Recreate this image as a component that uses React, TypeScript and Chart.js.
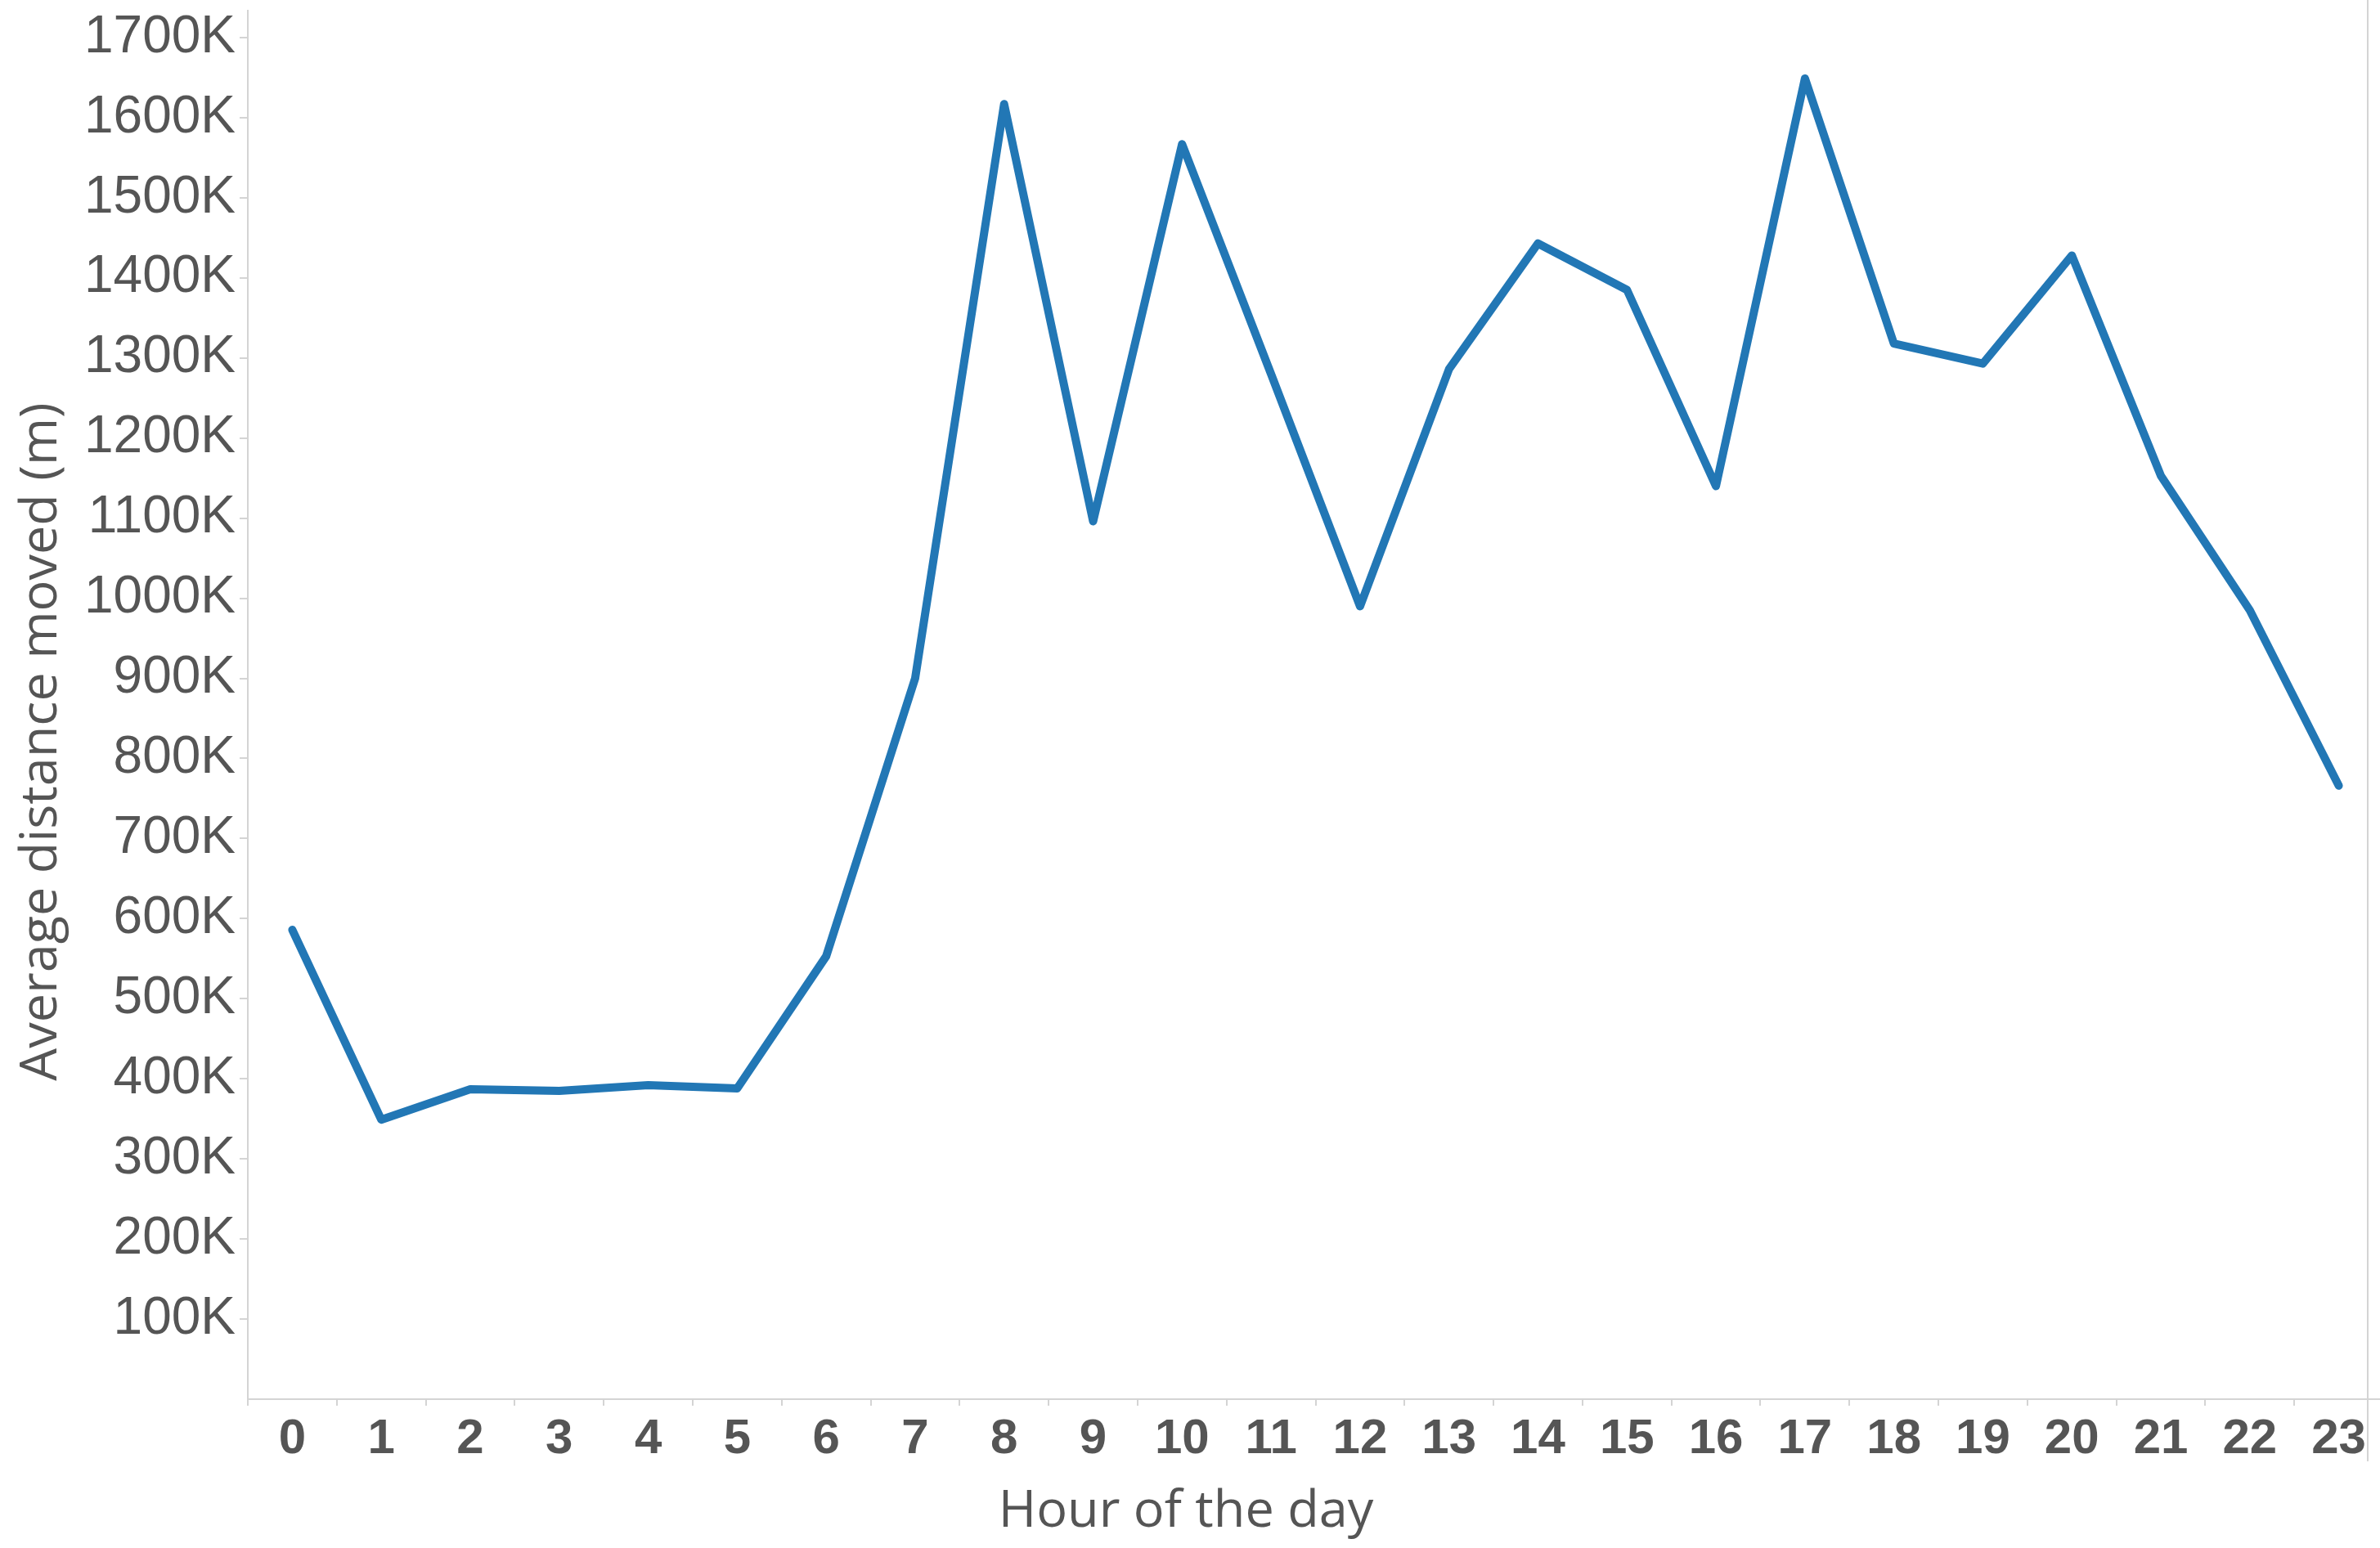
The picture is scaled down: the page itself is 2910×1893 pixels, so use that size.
import React, { useEffect, useRef } from "react";
import { Chart, registerables } from "chart.js";

Chart.register(...registerables);

const hours: string[] = [
  "0", "1", "2", "3", "4", "5", "6", "7", "8", "9", "10", "11",
  "12", "13", "14", "15", "16", "17", "18", "19", "20", "21", "22", "23",
];

const avgDistance: number[] = [
  586000, 349000, 387000, 385000, 392000, 388000, 553000, 900000,
  1617000, 1096000, 1567000, 1280000, 990000, 1286000, 1443000, 1385000,
  1140000, 1649000, 1318000, 1293000, 1428000, 1153000, 985000, 766000,
];

const yTickValues: number[] = [
  100000, 200000, 300000, 400000, 500000, 600000, 700000, 800000, 900000,
  1000000, 1100000, 1200000, 1300000, 1400000, 1500000, 1600000, 1700000,
];

const xTitle = "Hour of the day";
const yTitle = "Average distance moved (m)";

const W = 2910;
const H = 1893;
const CANVAS_W = 2930;

const AXIS_COLOR = "#d4d4d4";
const TEXT_COLOR = "#555555";
const LINE_COLOR = "#2277b5";

export default function App() {
  const ref = useRef<HTMLCanvasElement | null>(null);

  useEffect(() => {
    const canvas = ref.current;
    if (!canvas) return;

    const titlesPlugin = {
      id: "customTitles",
      afterDraw(chart: any) {
        const ctx = chart.ctx;
        ctx.save();
        ctx.fillStyle = TEXT_COLOR;
        ctx.font = '63px "Open Sans"';
        ctx.textAlign = "center";
        ctx.textBaseline = "alphabetic";
        ctx.fillText(xTitle, 1450, 1867);
        ctx.translate(69, 907);
        ctx.rotate(-Math.PI / 2);
        ctx.fillText(yTitle, 0, 0);
        ctx.restore();

        ctx.save();
        ctx.strokeStyle = AXIS_COLOR;
        ctx.lineWidth = 2;
        ctx.beginPath();
        ctx.moveTo(2895, 0);
        ctx.lineTo(2895, 1787);
        ctx.stroke();
        ctx.restore();
      },
    };

    const chart = new Chart(canvas, {
      type: "line",
      data: {
        labels: hours,
        datasets: [
          {
            data: avgDistance,
            borderColor: LINE_COLOR,
            backgroundColor: LINE_COLOR,
            borderWidth: 10,
            pointRadius: 0,
            pointHoverRadius: 0,
            tension: 0,
            borderJoinStyle: "round",
            borderCapStyle: "round",
            fill: false,
          },
        ],
      },
      options: {
        responsive: false,
        animation: false,
        devicePixelRatio: 1,
        layout: { padding: { left: 0, top: 13, right: 16, bottom: 0 } },
        plugins: {
          legend: { display: false },
          tooltip: { enabled: false },
          title: { display: false },
        },
        scales: {
          x: {
            type: "category",
            offset: true,
            grid: {
              offset: true,
              drawOnChartArea: false,
              drawTicks: true,
              tickLength: 8,
              color: AXIS_COLOR,
              lineWidth: 2,
            },
            border: { display: true, color: AXIS_COLOR, width: 2 },
            ticks: {
              color: TEXT_COLOR,
              padding: 5,
              maxRotation: 0,
              autoSkip: false,
              font: { family: '"Liberation Sans", Arial, sans-serif', size: 60, weight: "bold" },
            },
            afterFit(scale: any) {
              scale.height = 182;
              scale.paddingLeft = 0;
              scale.paddingRight = 0;
              scale.paddingTop = 0;
              scale.paddingBottom = 0;
            },
          },
          y: {
            type: "linear",
            min: 0,
            max: 1733700,
            grid: {
              drawOnChartArea: false,
              drawTicks: true,
              tickLength: 10,
              color: AXIS_COLOR,
              lineWidth: 2,
            },
            border: { display: true, color: AXIS_COLOR, width: 2 },
            ticks: {
              color: TEXT_COLOR,
              padding: 5,
              font: { family: '"Liberation Sans", Arial, sans-serif', size: 64 },
              callback: (v: any) => Math.round(Number(v) / 1000) + "K",
            },
            afterBuildTicks(scale: any) {
              scale.ticks = yTickValues.map((value) => ({ value }));
            },
            afterFit(scale: any) {
              scale.width = 303;
              scale.paddingLeft = 0;
              scale.paddingRight = 0;
              scale.paddingTop = 0;
              scale.paddingBottom = 0;
            },
          },
        },
      },
      plugins: [titlesPlugin],
    });

    return () => chart.destroy();
  }, []);

  return (
    <div
      style={{
        position: "absolute",
        left: 0,
        top: 0,
        width: W,
        height: H,
        overflow: "hidden",
        background: "#ffffff",
      }}
    >
      <canvas
        ref={ref}
        width={CANVAS_W}
        height={H}
        style={{ display: "block", width: CANVAS_W, height: H }}
      />
    </div>
  );
}
